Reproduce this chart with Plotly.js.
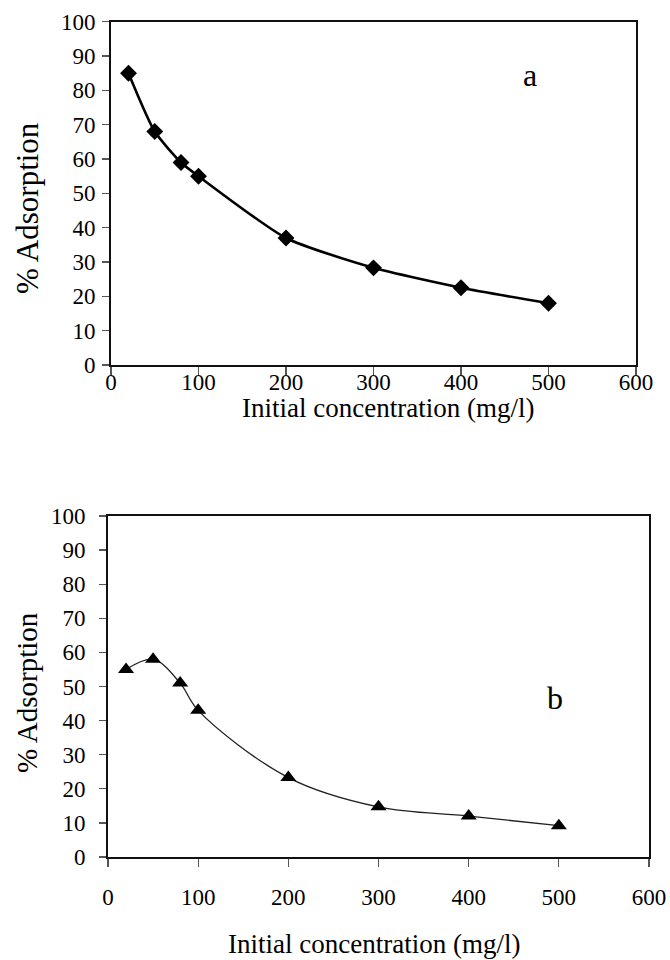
<!DOCTYPE html>
<html>
<head>
<meta charset="utf-8">
<script src="https://cdn.plot.ly/plotly-3.0.1.min.js"></script>
<style>html,body{margin:0;padding:0;background:#fff}#chart{width:670px;height:960px}</style>
</head>
<body>
<div id="chart"></div>
<script>
// Data
const concentration = [20, 50, 80, 100, 200, 300, 400, 500];
const adsorptionA = [85, 68, 59, 55, 37, 28.3, 22.5, 18];
const adsorptionB = [55, 58, 51, 43, 23.3, 14.7, 12, 9.2];
const xTicks = [0, 100, 200, 300, 400, 500, 600];
const yTicks = [0, 10, 20, 30, 40, 50, 60, 70, 80, 90, 100];
const panelLabels = ['a', 'b'];
const xTitle = 'Initial concentration (mg/l)';
const yTitle = '% Adsorption';

const FONT = 'Liberation Serif';
const W = 670, H = 960;

const traceA = {
  x: concentration, y: adsorptionA, xaxis: 'x', yaxis: 'y',
  mode: 'lines+markers', type: 'scatter',
  line: {color: '#000', width: 2.6, shape: 'spline', smoothing: 0.6},
  marker: {symbol: 'diamond', size: 13, color: '#000'},
  showlegend: false, hoverinfo: 'x+y'
};
const traceB = {
  x: concentration, y: adsorptionB, xaxis: 'x2', yaxis: 'y2',
  mode: 'lines+markers', type: 'scatter',
  line: {color: '#222', width: 1.3, shape: 'spline', smoothing: 1},
  marker: {symbol: 'triangle-up', size: 14, color: '#000'},
  showlegend: false, hoverinfo: 'x+y'
};

function xAxis(domain, anchor, labelStandoff) {
  return {
    domain: domain, anchor: anchor, range: [0, 600],
    tickvals: xTicks, ticktext: xTicks.map(String),
    ticks: 'outside', ticklen: 8, tickwidth: 1.3, tickcolor: '#555',
    showline: true, linecolor: '#111', linewidth: 2, mirror: true,
    showgrid: false, zeroline: false,
    tickfont: {family: FONT, size: 23, color: '#000'},
    ticklabelstandoff: labelStandoff,
    automargin: false, fixedrange: true
  };
}
function yAxis(domain, anchor, labelStandoff) {
  return {
    domain: domain, anchor: anchor, range: [0, 100],
    tickvals: yTicks, ticktext: yTicks.map(String),
    ticks: 'outside', ticklen: 7, tickwidth: 1.3, tickcolor: '#555',
    showline: true, linecolor: '#111', linewidth: 2, mirror: true,
    showgrid: false, zeroline: false,
    tickfont: {family: FONT, size: 23, color: '#000'},
    ticklabelstandoff: labelStandoff,
    automargin: false, fixedrange: true
  };
}

function paperText(text, px, py, size, angle) {
  return {xref: 'paper', yref: 'paper', x: px / W, y: 1 - py / H,
    xanchor: 'center', yanchor: 'middle', text: text, showarrow: false,
    textangle: angle || 0, font: {family: FONT, size: size, color: '#000'}};
}

const layout = {
  width: W, height: H,
  margin: {l: 0, r: 0, t: 0, b: 0},
  font: {family: FONT, color: '#000'},
  paper_bgcolor: '#fff', plot_bgcolor: '#fff',
  xaxis: xAxis([111/W, 636/W], 'y', -13),
  yaxis: yAxis([1 - 365/H, 1 - 21.7/H], 'x', 2),
  xaxis2: xAxis([108/W, 649/W], 'y2', 10),
  yaxis2: yAxis([1 - 857/H, 1 - 516/H], 'x2', 9),
  annotations: [
    {xref: 'x', yref: 'y', x: 479, y: 84.5, text: panelLabels[0], showarrow: false,
     font: {family: FONT, size: 32, color: '#000'}},
    {xref: 'x2', yref: 'y2', x: 496, y: 46.6, text: panelLabels[1], showarrow: false,
     font: {family: FONT, size: 32, color: '#000'}},
    paperText(xTitle, 388, 408, 27),
    paperText(xTitle, 374, 944, 27),
    paperText(yTitle, 27, 208, 31, -90),
    paperText(yTitle, 27, 693, 29, -90)
  ]
};

Plotly.newPlot('chart', [traceA, traceB], layout, {staticPlot: true, displayModeBar: false});
</script>
</body>
</html>
